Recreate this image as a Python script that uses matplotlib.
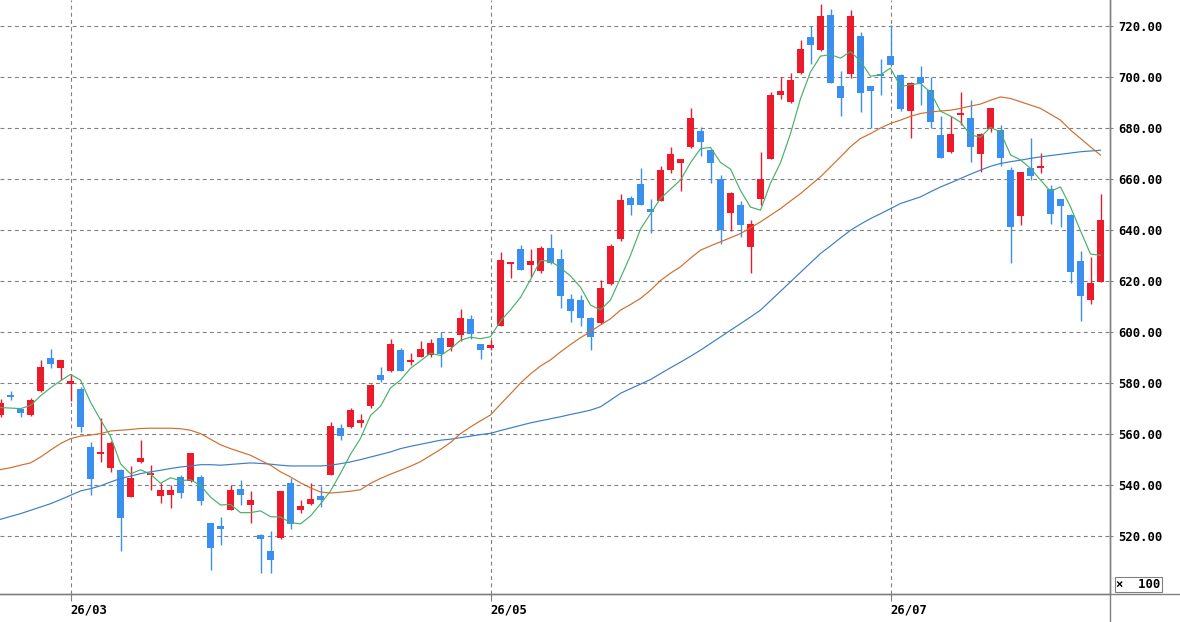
import numpy as np
import matplotlib.pyplot as plt
from matplotlib.lines import Line2D

# daily candles (index 0..110), prices
opens = [567.2, 574.8, 569.8, 567.3, 576.6, 589.8, 585.8, 579.5, 577.4, 554.8,
         552.0, 546.5, 545.9, 535.2, 549.0, 543.8, 535.6, 535.8, 542.9, 541.4,
         543.0, 524.8, 523.9, 529.9, 538.4, 532.0, 520.4, 513.9, 519.2, 540.7,
         529.9, 532.2, 535.7, 543.9, 562.1, 562.6, 564.2, 570.7, 582.9, 584.6,
         592.7, 588.0, 590.1, 591.0, 597.6, 594.0, 598.8, 605.1, 595.0, 593.6,
         602.2, 626.4, 632.2, 626.0, 623.7, 632.7, 628.6, 612.9, 612.3, 605.5,
         603.4, 618.8, 636.2, 652.5, 657.8, 648.0, 651.2, 663.3, 666.1, 672.2,
         678.6, 671.1, 659.7, 646.3, 649.5, 633.2, 651.8, 667.7, 692.9, 690.1,
         701.2, 715.3, 710.3, 724.1, 696.2, 700.9, 715.8, 696.2, 700.9, 708.0,
         700.5, 686.5, 699.9, 694.6, 677.0, 670.3, 684.8, 683.9, 669.5, 679.6,
         679.0, 663.5, 645.4, 664.3, 664.1, 655.7, 651.9, 645.6, 627.6, 612.5,
         619.5]
highs = [573.7, 576.7, 570.0, 574.1, 588.8, 593.3, 588.8, 583.5, 578.3, 556.7,
         566.3, 557.0, 546.0, 547.2, 557.4, 547.6, 540.7, 539.7, 543.7, 552.4,
         543.7, 525.0, 527.1, 540.0, 541.7, 537.4, 520.6, 521.7, 537.6, 542.4,
         534.1, 540.7, 539.3, 564.4, 563.9, 570.2, 567.5, 579.6, 586.1, 596.9,
         593.7, 591.6, 596.3, 597.0, 600.0, 597.6, 609.0, 606.4, 595.2, 596.6,
         631.0, 627.2, 633.9, 632.2, 633.5, 638.2, 632.2, 614.9, 614.2, 605.6,
         620.2, 634.2, 654.1, 653.0, 664.3, 651.9, 665.0, 672.4, 667.7, 687.8,
         680.3, 671.5, 661.3, 654.8, 651.0, 643.9, 670.5, 693.9, 699.9, 701.2,
         714.2, 719.7, 728.4, 726.3, 702.2, 726.0, 717.5, 696.3, 706.7, 720.1,
         700.9, 697.9, 704.1, 699.9, 684.4, 684.4, 694.0, 690.7, 677.9, 687.8,
         680.9, 664.6, 662.6, 675.7, 670.1, 657.4, 652.0, 646.0, 631.6, 629.3,
         654.1]
lows = [566.5, 573.1, 566.5, 567.0, 576.3, 585.9, 580.9, 572.8, 560.7, 536.1,
        548.9, 545.0, 514.0, 535.0, 548.5, 538.0, 532.8, 530.8, 534.6, 541.0,
        531.8, 506.4, 516.5, 529.9, 531.9, 525.0, 505.4, 505.4, 518.8, 522.6,
        528.9, 532.0, 531.2, 543.7, 557.6, 562.3, 562.4, 570.1, 580.3, 584.2,
        584.4, 586.7, 589.9, 590.0, 586.1, 592.4, 596.3, 596.9, 589.4, 592.7,
        602.0, 621.0, 624.0, 621.4, 623.0, 626.5, 609.4, 603.8, 602.1, 592.9,
        603.0, 618.2, 635.6, 645.6, 649.6, 638.7, 651.0, 662.2, 655.2, 672.0,
        669.0, 658.3, 634.2, 639.5, 637.1, 622.9, 649.5, 667.5, 691.0, 689.7,
        701.0, 705.1, 710.0, 697.3, 684.4, 699.6, 686.1, 680.0, 692.7, 704.5,
        686.5, 675.9, 688.8, 680.0, 668.0, 670.0, 680.9, 666.5, 662.6, 678.3,
        665.1, 626.9, 641.7, 659.3, 662.0, 642.1, 641.0, 619.1, 604.2, 610.7,
        619.3]
closes = [571.8, 574.5, 568.2, 573.3, 586.1, 587.2, 588.8, 580.5, 562.6, 542.2,
          552.8, 556.3, 526.9, 542.6, 550.3, 544.6, 538.0, 537.8, 536.7, 552.2,
          533.6, 515.2, 522.4, 537.8, 535.8, 533.9, 518.7, 510.6, 537.4, 524.7,
          531.5, 534.2, 534.1, 563.1, 559.0, 569.2, 565.2, 579.0, 580.9, 595.3,
          584.6, 588.4, 593.3, 595.7, 591.1, 597.3, 605.5, 599.2, 592.9, 594.9,
          628.2, 627.1, 624.1, 627.5, 632.8, 626.7, 614.0, 608.1, 605.4, 597.9,
          616.9, 633.5, 651.5, 649.5, 649.8, 646.9, 663.3, 669.5, 667.5, 683.9,
          674.4, 665.9, 640.0, 654.4, 641.6, 642.1, 660.0, 692.9, 694.2, 698.8,
          710.6, 712.5, 723.7, 697.5, 691.5, 723.7, 693.6, 694.4, 700.1, 704.7,
          687.3, 697.3, 697.3, 682.2, 668.1, 677.4, 685.6, 672.4, 677.4, 687.6,
          668.1, 641.0, 662.4, 661.0, 664.6, 645.9, 649.4, 623.4, 614.0, 619.1,
          643.7]

# moving average lines as drawn on the chart
ma_short = [570.2, 570.0, 569.8, 571.0, 574.8, 577.9, 580.7, 583.2, 581.0, 572.3,
            565.4, 558.9, 548.2, 544.2, 545.8, 544.1, 540.5, 542.7, 541.5, 541.9,
            539.7, 535.1, 532.0, 532.2, 529.0, 529.0, 529.7, 527.4, 527.3, 525.1,
            524.6, 527.7, 532.4, 537.5, 544.4, 551.9, 558.1, 567.1, 570.7, 577.9,
            581.0, 585.6, 588.5, 591.5, 590.6, 593.2, 596.6, 597.8, 597.2, 598.0,
            604.1, 608.5, 613.4, 620.4, 627.9, 627.6, 625.0, 621.8, 617.4, 610.4,
            608.5, 612.4, 621.0, 629.9, 640.2, 646.2, 652.2, 655.8, 659.4, 666.2,
            671.7, 672.2, 666.3, 663.7, 655.3, 648.8, 647.6, 658.2, 666.2, 677.6,
            691.3, 701.8, 708.0, 708.6, 707.2, 709.8, 706.0, 700.1, 700.7, 703.3,
            696.0, 696.8, 697.3, 693.8, 686.4, 684.5, 682.1, 677.1, 676.2, 680.1,
            678.2, 669.3, 667.3, 664.0, 659.4, 655.0, 656.7, 648.9, 639.5, 630.4,
            629.9]
ma_mid = [545.9, 546.6, 547.6, 548.5, 550.8, 553.5, 556.1, 558.0, 559.0, 559.4,
          560.0, 561.0, 561.3, 561.6, 562.0, 562.1, 562.1, 562.1, 561.9, 561.3,
          560.0, 557.8, 555.6, 554.1, 552.8, 551.5, 549.5, 547.6, 545.0, 543.0,
          540.7, 538.7, 537.1, 536.7, 537.0, 537.4, 538.0, 540.5, 542.4, 544.1,
          545.6, 547.2, 549.0, 551.4, 553.8, 556.5, 560.0, 562.6, 565.0, 567.3,
          571.5, 575.6, 579.8, 583.4, 586.5, 588.9, 592.0, 594.9, 597.6, 600.0,
          602.6, 605.0, 608.4, 610.6, 613.0, 616.2, 620.0, 622.9, 625.4, 628.8,
          631.9, 633.6, 635.2, 636.8, 638.4, 640.7, 643.0, 645.6, 648.2, 651.2,
          654.1, 657.4, 660.7, 664.6, 668.5, 672.5, 675.7, 677.6, 679.8, 681.6,
          682.9, 684.4, 685.5, 686.1, 686.5, 686.8, 687.5, 688.4, 689.2, 690.7,
          692.0, 691.4, 690.1, 688.8, 687.5, 685.2, 682.9, 679.0, 675.7, 672.4,
          669.2]
ma_long = [526.4, 527.5, 528.6, 529.9, 531.2, 532.5, 534.1, 535.8, 537.5, 538.4,
           539.5, 541.0, 542.4, 543.3, 544.3, 545.0, 545.6, 546.3, 546.9, 547.3,
           547.8, 547.8, 547.6, 547.9, 548.2, 548.5, 548.3, 548.0, 547.6, 547.3,
           547.3, 547.3, 547.3, 547.6, 548.2, 548.9, 549.8, 550.8, 551.8, 552.8,
           554.1, 555.0, 555.8, 556.6, 557.4, 557.8, 558.4, 559.0, 559.6, 560.1,
           561.2, 562.2, 563.2, 564.2, 565.0, 565.8, 566.6, 567.5, 568.3, 569.2,
           570.5, 573.1, 575.8, 577.6, 579.4, 581.2, 583.5, 585.8, 588.0, 590.3,
           592.7, 595.3, 597.9, 600.5, 603.1, 605.7, 608.4, 612.1, 615.8, 619.5,
           623.2, 626.9, 630.6, 633.6, 636.7, 639.7, 642.1, 644.3, 646.2, 648.2,
           650.2, 651.5, 652.8, 654.8, 656.7, 658.3, 660.0, 661.7, 663.3, 664.8,
           665.9, 666.6, 667.2, 667.9, 668.5, 669.0, 669.5, 670.0, 670.5, 670.8,
           671.1]

month_labels = ["26/03", "26/05", "26/07"]
month_pos = [7, 49, 89]
price_ticks = [520, 540, 560, 580, 600, 620, 640, 660, 680, 700, 720]

UP = "#ec1b2b"
DOWN = "#3b8fee"
GRID = "#808080"
FONT = "DejaVu Sans Mono"

o = np.array(opens)
h = np.array(highs)
l = np.array(lows)
c = np.array(closes)
x = np.arange(len(c))
up = c >= o
colors = np.where(up, UP, DOWN)

fig = plt.figure(figsize=(11.8, 6.22), dpi=100)
fig.patch.set_facecolor("white")
ax = fig.add_axes([0, 28 / 622, 1110 / 1180, 594 / 622])

# grid
for p in price_ticks:
    ax.axhline(p, color=GRID, lw=0.8, ls=(0, (3.5, 3)), zorder=0)
for m in month_pos:
    ax.axvline(m, color=GRID, lw=0.8, ls=(0, (3.5, 3)), zorder=0)

# candles
ax.vlines(x, l, h, colors=colors, lw=1.0, zorder=2)
body_lo = np.minimum(o, c)
body_h = np.maximum(np.abs(c - o), 0.8)
ax.bar(x, body_h, bottom=body_lo, width=0.66, color=colors, edgecolor="none", zorder=3)

# moving averages
ax.plot(x, ma_long, color="#3a7fc4", lw=0.85, zorder=4)
ax.plot(x, ma_mid, color="#cf6e2e", lw=0.85, zorder=4)
ax.plot(x, ma_short, color="#48b068", lw=0.85, zorder=4)

ax.set_xlim(-0.05, 110.95)
ax.set_ylim(497.1, 730.0)

for s in ["top", "left"]:
    ax.spines[s].set_visible(False)
for s in ["right", "bottom"]:
    ax.spines[s].set_color(GRID)
    ax.spines[s].set_linewidth(1.0)

ax.yaxis.tick_right()
ax.set_yticks(price_ticks)
ax.set_yticklabels([f"{p:.2f}" for p in price_ticks])
ax.tick_params(axis="y", direction="out", length=2.5, width=0.8, color=GRID, pad=3.5)
ax.set_xticks(month_pos)
ax.set_xticklabels(month_labels)
ax.tick_params(axis="x", direction="out", length=5, width=0.8, color=GRID, pad=1.5)
for lab in ax.get_xticklabels():
    lab.set_horizontalalignment("left")
for lab in ax.get_xticklabels() + ax.get_yticklabels():
    lab.set_fontfamily(FONT)
    lab.set_fontweight("bold")
    lab.set_fontsize(8.8)
    lab.set_color("black")

# frame lines running to the figure edges
fig.add_artist(Line2D([0, 1], [28 / 622, 28 / 622], color=GRID, lw=1.0))
fig.add_artist(Line2D([1110 / 1180, 1110 / 1180], [0, 1], color=GRID, lw=1.0))

fig.text(1116 / 1180, (622 - 584.5) / 622, "\u00d7  100", fontfamily=FONT, fontweight="bold",
         fontsize=8.8, va="center", ha="left",
         bbox=dict(boxstyle="square,pad=0.12", facecolor="white", edgecolor=GRID, lw=0.8))

fig.savefig("out.png", dpi=100, facecolor="white")
